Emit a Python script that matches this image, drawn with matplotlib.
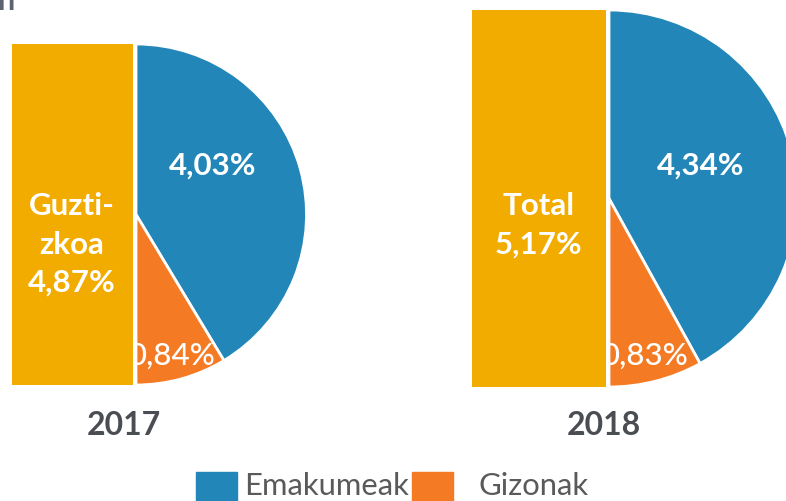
import matplotlib
matplotlib.use('Agg')
import matplotlib.pyplot as plt
from matplotlib.patches import Rectangle

plt.rcParams['font.family'] = ['Lato', 'DejaVu Sans']

# ---- data ----
years = ['2017', '2018']
total = [4.87, 5.17]
women = [4.03, 4.34]
men = [0.84, 0.83]
total_labels = [['Guzti-', 'zkoa', '4,87%'], ['Total', '5,17%']]
women_labels = ['4,03%', '4,34%']
men_labels = ['0,84%', '0,83%']
series_names = ['Emakumeak', 'Gizonak']

# ---- style ----
COL_TOTAL = '#F2AC00'
COL_WOMEN = '#2386B9'
COL_MEN = '#F47A24'
TEXT_DARK = '#4a4d52'
TEXT_GREY = '#5a5a5a'

W, H = 786, 501
fig = plt.figure(figsize=(W / 100, H / 100), dpi=100)

# layout per panel (pixels): pie centre, pie radius, label positions
layout = [
    dict(cx=136, cy=214.5, rpx=170.5, women_xy=(212.5, 175), men_xy=(215, 365),
         total_x=71.5, year_x=124),
    dict(cx=609, cy=198.5, rpx=188.5, women_xy=(701, 175), men_xy=(688, 365),
         total_x=538.5, year_x=603.5),
]
BAR_W_FRAC = 0.355   # bar width relative to total height
GAP_PX = 3.0
LINE_STEP = 38.5
FIRST_BASELINE = 215
VAL_FS = 22.5


def figpx(x, y):
    return x / W, 1 - y / H


for i, lay in enumerate(layout):
    T = total[i]
    s = lay['rpx'] / (T / 2)  # px per unit
    ax = fig.add_axes([0, 0, 1, 1])
    ax.patch.set_visible(False)

    def d(px, py, cx=lay['cx'], cy=lay['cy'], s=s):
        return (px - cx) / s, (cy - py) / s

    wedges, _ = ax.pie([women[i], men[i], T], colors=[COL_WOMEN, COL_MEN, 'none'],
                       startangle=90, counterclock=False, radius=T / 2,
                       center=(0, 0),
                       wedgeprops=dict(edgecolor='white', linewidth=2.0))
    wedges[2].set_visible(False)
    # white strip between bar and pie (covers text overflow, like the reference)
    gap = GAP_PX / s
    w = BAR_W_FRAC * T
    ax.bar(-gap / 2, T * 1.02, width=gap, bottom=-T * 0.51, color='white',
           zorder=3, linewidth=0)
    ax.bar(-gap - w / 2, T, width=w, bottom=-T / 2, color=COL_TOTAL, zorder=3,
           linewidth=0)

    ax.set_xlim((0 - lay['cx']) / s, (W - lay['cx']) / s)
    ax.set_ylim((lay['cy'] - H) / s, lay['cy'] / s)
    ax.set_aspect('auto')
    ax.axis('off')

    # labels
    ax.text(*d(*lay['women_xy']), women_labels[i], color='white', fontsize=VAL_FS,
            fontweight='bold', ha='center', va='baseline', zorder=5)
    ax.text(*d(*lay['men_xy']), men_labels[i], color='white', fontsize=VAL_FS,
            fontweight='medium', ha='right', va='baseline', zorder=2)
    for k, line in enumerate(total_labels[i]):
        ax.text(*d(lay['total_x'], FIRST_BASELINE + k * LINE_STEP), line,
                color='white', fontsize=VAL_FS, fontweight='bold', ha='center',
                va='baseline', zorder=5)

    # year label
    fig.text(*figpx(lay['year_x'], 435), years[i], color=TEXT_DARK, fontsize=23,
             fontweight='bold', ha='center', va='baseline')

# partially visible title glyph at top-left
fig.text(*figpx(-3, 10), 'n', color='#5d6370', fontsize=22, fontweight='bold',
         ha='left', va='baseline')

# legend (manual, cut by bottom edge as in the reference)
leg_items = [(196, COL_WOMEN, 244), (412, COL_MEN, 478)]
for (x0, col, tx), name in zip(leg_items, series_names):
    fig.patches.append(Rectangle(figpx(x0, 513), 41 / W, 41 / H, color=col,
                                 transform=fig.transFigure, figure=fig))
    fig.text(*figpx(tx, 495), name, color=TEXT_GREY, fontsize=22.3,
             fontweight='normal', ha='left', va='baseline')

fig.savefig('out.png', dpi=100)
